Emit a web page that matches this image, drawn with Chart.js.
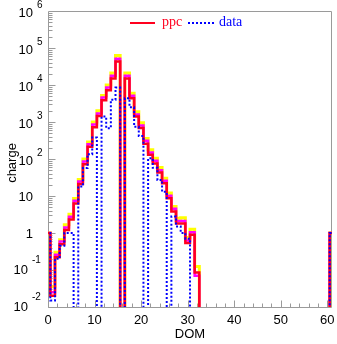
<!DOCTYPE html>
<html><head><meta charset="utf-8">
<script src="https://cdn.jsdelivr.net/npm/chart.js@4.4.1/dist/chart.umd.min.js"></script>
<style>html,body{margin:0;padding:0;background:#fff}canvas{display:block}</style>
</head><body>
<canvas id="c" width="337" height="344"></canvas>
<script>
// ---- data ----
const DOM = Array.from({length: 62}, (_, i) => i);           // categories: DOM index 0..61
const ppc = [1, 0.02, 0.22, 0.5, 1.2, 2.3, 6.3, 21, 72, 214, 720, 1450, 3900, 7200, 15000, 43000, 0,
  15000, 4400, 1400, 690, 260, 130, 76, 43, 22, 8.7, 3.8, 1.8, 1.8, 0.54, 0.9, 0.085,
  0,0,0,0,0,0,0,0,0,0, 0,0,0,0,0,0,0,0,0,0, 0,0,0,0,0,0,0,0, 1];
const ppcMagenta = [1, 0.025, 0.26, 0.59, 1.4, 2.75, 7.4, 24.5, 85, 250, 850, 1700, 4600, 8500, 17800, 51000, 0,
  17800, 5100, 1600, 810, 310, 150, 89, 50, 26, 10.2, 4.5, 2.1, 2.1, 0.63, 1.05, 0.07,
  0,0,0,0,0,0,0,0,0,0, 0,0,0,0,0,0,0,0,0,0, 0,0,0,0,0,0,0,0, 1];
const ppcYellow = [1, 0.035, 0.30, 0.66, 1.66, 3.2, 8.5, 28, 100, 290, 1000, 2000, 5200, 10000, 21000, 63000, 0,
  21000, 6000, 1900, 950, 360, 178, 105, 59, 30, 12, 5.2, 2.5, 2.6, 0.76, 1.26, 0.125,
  0,0,0,0,0,0,0,0,0,0, 0,0,0,0,0,0,0,0,0,0, 0,0,0,0,0,0,0,0, 1];
const dataVals = [1, 0.015, 0.2, 0.45, 1.0, 1.0, 0, 18, 57, 135, 380, 0, 1400, 680, 4000, 8500, 0,
  4400, 2500, 740, 420, 0, 105, 58, 27, 13, 0, 2.8, 1.5, 1.0, 0.7, 0, 0,
  0,0,0,0,0,0,0,0,0,0, 0,0,0,0,0,0,0,0,0,0, 0,0,0,0,0,0,0,0, 1];
const xTickValues = [0, 10, 20, 30, 40, 50, 60];
const yTickValues = [1e-2, 1e-1, 1, 10, 1e2, 1e3, 1e4, 1e5, 1e6];
const yTickBase = ['10', '10', '1', '10', '10', '10', '10', '10', '10'];
const yTickSup  = ['-2', '-1', '', '', '2', '3', '4', '5', '6'];

const FLOOR = 1e-4; // empty bins drawn below the axis minimum (clipped)
function stepPoints(vals) {
  const pts = [];
  vals.forEach((v, i) => {
    const y = v > 0 ? v : FLOOR;
    pts.push({x: DOM[i] - 0.5, y: y}, {x: DOM[i] + 0.5, y: y});
  });
  return pts;
}

const FRAME = '#9a9a9a';
const SANS = '"Liberation Sans", Arial, Helvetica, sans-serif';
const SERIF = '"Liberation Serif", "Times New Roman", serif';

const axesPlugin = {
  id: 'axesPlugin',
  beforeDatasetsDraw(chart) {
    const {ctx, chartArea: ca, scales: {x, y}} = chart;
    ctx.save();
    ctx.strokeStyle = FRAME;
    ctx.lineWidth = 1;
    const L = Math.round(ca.left) + 0.5, R = Math.round(ca.right) - 0.5;
    const T = Math.round(ca.top) + 0.5, B = Math.round(ca.bottom) + 0.5;
    ctx.beginPath();
    ctx.moveTo(L, T); ctx.lineTo(R, T); ctx.lineTo(R, B); ctx.lineTo(L, B); ctx.closePath();
    ctx.stroke();
    // x ticks (inside)
    ctx.beginPath();
    for (let v = 0; v <= 61; v += 2) {
      const px = Math.round(x.getPixelForValue(v)) + 0.5;
      const len = (v % 10 === 0) ? 7 : 4;
      ctx.moveTo(px, B); ctx.lineTo(px, B - len);
    }
    // y ticks (inside)
    for (let e = -2; e <= 5; e++) {
      for (let m = 1; m <= 9; m++) {
        const v = m * Math.pow(10, e);
        const py = Math.round(y.getPixelForValue(v)) + 0.5;
        const len = (m === 1) ? 7 : 4;
        ctx.moveTo(L, py); ctx.lineTo(L + len, py);
      }
    }
    ctx.stroke();
    ctx.restore();
  },
  afterDraw(chart) {
    const {ctx, chartArea: ca, scales: {x, y}} = chart;
    ctx.save();
    ctx.fillStyle = '#000';
    // x tick labels
    ctx.font = '13px ' + SANS;
    ctx.textAlign = 'center';
    ctx.textBaseline = 'middle';
    xTickValues.forEach(v => ctx.fillText(String(v), x.getPixelForValue(v), 320));
    // y tick labels with superscripts
    yTickValues.forEach((v, i) => {
      const py = y.getPixelForValue(v);
      const base = yTickBase[i], sup = yTickSup[i];
      ctx.textBaseline = 'middle';
      if (sup) {
        const neg = sup.startsWith('-');
        const supX = neg ? 32 : 37;
        ctx.font = '13px ' + SANS;
        ctx.textAlign = 'right';
        ctx.fillText(base, supX - 4, py + (neg ? 0.5 : 2.5));
        ctx.font = '10px ' + SANS;
        ctx.textAlign = 'left';
        ctx.fillText(sup, supX, py + (neg ? -10 : -6));
      } else {
        ctx.font = '13px ' + SANS;
        ctx.textAlign = 'right';
        ctx.fillText(base, 33, py + 1);
      }
    });
    // axis titles
    ctx.font = '13px ' + SANS;
    ctx.textAlign = 'center';
    ctx.textBaseline = 'middle';
    ctx.fillText('DOM', 190, 334);
    ctx.save();
    ctx.translate(12, 163);
    ctx.rotate(-Math.PI / 2);
    ctx.fillText('charge', 0, 0);
    ctx.restore();
    // legend
    ctx.lineWidth = 2;
    ctx.strokeStyle = 'rgb(255,0,30)';
    ctx.beginPath(); ctx.moveTo(130, 23); ctx.lineTo(155, 23); ctx.stroke();
    ctx.strokeStyle = '#0000ff';
    ctx.setLineDash([2, 2]);
    ctx.beginPath(); ctx.moveTo(188, 23); ctx.lineTo(215, 23); ctx.stroke();
    ctx.setLineDash([]);
    ctx.font = '14px ' + SERIF;
    ctx.textAlign = 'left';
    ctx.textBaseline = 'alphabetic';
    ctx.fillStyle = 'rgb(255,0,30)';
    ctx.fillText('ppc', 162, 25.5);
    ctx.fillStyle = '#0000ff';
    ctx.fillText('data', 219, 25.5);
    ctx.restore();
  }
};

const common = {showLine: true, pointRadius: 0, pointHoverRadius: 0, clip: 0, tension: 0,
  borderJoinStyle: 'miter', borderCapStyle: 'butt', fill: false};

new Chart(document.getElementById('c').getContext('2d'), {
  type: 'scatter',
  data: {
    datasets: [
      Object.assign({label: 'data', data: stepPoints(dataVals), borderColor: '#0000ff',
        borderWidth: 2, borderDash: [2, 2]}, common),
      Object.assign({label: 'ppc', data: stepPoints(ppc), borderColor: 'rgb(255,0,30)',
        borderWidth: 2.5}, common),
      Object.assign({label: 'ppc (magenta)', data: stepPoints(ppcMagenta), borderColor: '#ff00ff',
        borderWidth: 2.5}, common),
      Object.assign({label: 'ppc (yellow)', data: stepPoints(ppcYellow), borderColor: '#ffff00',
        borderWidth: 3}, common)
    ]
  },
  options: {
    responsive: false,
    animation: false,
    events: [],
    layout: {padding: {left: 48, top: 11, right: 5, bottom: 37}},
    plugins: {legend: {display: false}, tooltip: {enabled: false}},
    scales: {
      x: {type: 'linear', min: 0, max: 61, display: false},
      y: {type: 'logarithmic', min: 0.01, max: 1e6, display: false}
    }
  },
  plugins: [axesPlugin]
});
</script>
</body></html>
